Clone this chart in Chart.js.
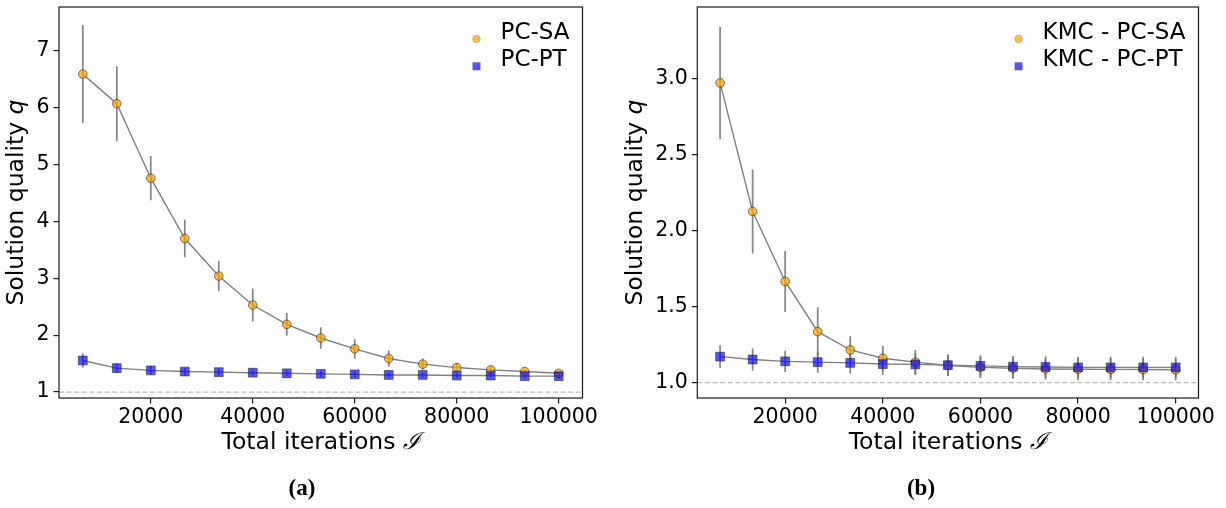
<!DOCTYPE html>
<html><head><meta charset="utf-8">
<script src="https://cdn.jsdelivr.net/npm/chart.js@4.4.0/dist/chart.umd.min.js"></script>
<style>
html,body{margin:0;padding:0;background:#fff;}
#wrap{position:relative;width:1226px;height:508px;overflow:hidden;background:#fff;}
canvas{position:absolute;top:0;}
</style></head><body>
<div id="wrap">
<canvas id="ca" width="613" height="508" style="left:0"></canvas>
<canvas id="cb" width="613" height="508" style="left:613px"></canvas>
</div>
<script>
// ---- data ----
const iterations = [6667, 13333, 20000, 26667, 33333, 40000, 46667, 53333, 60000, 66667, 73333, 80000, 86667, 93333, 100000];
const xTicks = [20000, 40000, 60000, 80000, 100000];
const xTickLabels = ['20000', '40000', '60000', '80000', '100000'];

// panel (a)
const labelsA = ['PC-SA', 'PC-PT'];
const pcSA = [6.59, 6.07, 4.76, 3.70, 3.04, 2.53, 2.19, 1.95, 1.76, 1.59, 1.49, 1.43, 1.39, 1.36, 1.33];
const pcSAErr = [0.86, 0.66, 0.39, 0.33, 0.27, 0.29, 0.20, 0.19, 0.17, 0.14, 0.10, 0.08, 0.06, 0.05, 0.04];
const pcPT = [1.555, 1.42, 1.38, 1.36, 1.35, 1.34, 1.33, 1.32, 1.31, 1.30, 1.30, 1.29, 1.29, 1.28, 1.28];
const pcPTErr = [0.125, 0.087, 0.075, 0.065, 0.06, 0.055, 0.05, 0.05, 0.05, 0.045, 0.045, 0.045, 0.04, 0.04, 0.04];
const yTicksA = [1, 2, 3, 4, 5, 6, 7];
const yTickLabelsA = ['1', '2', '3', '4', '5', '6', '7'];

// panel (b)
const labelsB = ['KMC - PC-SA', 'KMC - PC-PT'];
const kmcSA = [2.97, 2.125, 1.665, 1.335, 1.215, 1.16, 1.135, 1.113, 1.10, 1.095, 1.09, 1.088, 1.087, 1.086, 1.085];
const kmcSAErr = [0.37, 0.276, 0.20, 0.16, 0.09, 0.08, 0.08, 0.07, 0.07, 0.07, 0.07, 0.07, 0.07, 0.07, 0.07];
const kmcPT = [1.171, 1.152, 1.14, 1.135, 1.13, 1.122, 1.12, 1.115, 1.11, 1.105, 1.103, 1.10, 1.10, 1.10, 1.10];
const kmcPTErr = [0.074, 0.072, 0.07, 0.07, 0.07, 0.07, 0.07, 0.07, 0.07, 0.07, 0.07, 0.07, 0.07, 0.07, 0.07];
const yTicksB = [1.0, 1.5, 2.0, 2.5, 3.0];
const yTickLabelsB = ['1.0', '1.5', '2.0', '2.5', '3.0'];

const yTitleMain = 'Solution quality ';
const yTitleVar = 'q';
const xTitleMain = 'Total iterations ';
const xTitleVar = '\u2110';
const panelTags = ['(a)', '(b)'];

// ---- styles ----
const FONT = '"DejaVu Sans", "Noto Sans", sans-serif';
const ORANGE = 'rgba(255,165,0,0.72)';
const BLUE = 'rgba(0,0,255,0.66)';
const EDGE = 'rgba(40,40,40,0.75)';
const LINE = '#808080';
const ERR = 'rgba(110,110,110,0.85)';

function makeChart(canvasId, cfg) {
  const ctx = document.getElementById(canvasId).getContext('2d');
  const toPts = arr => arr.map((v, i) => ({ x: iterations[i], y: v }));
  const plugin = {
    id: 'custom_' + canvasId,
    beforeDatasetsDraw(chart) {
      const c = chart.ctx, a = chart.chartArea;
      const xs = chart.scales.x, ys = chart.scales.y;
      c.save();
      c.beginPath(); c.rect(a.left, a.top, a.right - a.left, a.bottom - a.top); c.clip();
      const y1 = ys.getPixelForValue(1);
      c.strokeStyle = 'rgba(175,175,175,0.85)'; c.lineWidth = 1.2; c.setLineDash([5, 2.6]);
      c.beginPath(); c.moveTo(a.left, y1); c.lineTo(a.right, y1); c.stroke();
      c.setLineDash([]);
      cfg.series.forEach(s => {
        c.strokeStyle = ERR; c.lineWidth = 1.7;
        s.values.forEach((v, i) => {
          const px = xs.getPixelForValue(iterations[i]);
          c.beginPath();
          c.moveTo(px, ys.getPixelForValue(v + s.err[i]));
          c.lineTo(px, ys.getPixelForValue(v - s.err[i]));
          c.stroke();
        });
      });
      c.restore();
    },
    afterDraw(chart) {
      const c = chart.ctx, a = chart.chartArea;
      c.save();
      c.strokeStyle = '#1a1a1a'; c.lineWidth = 1.2;
      c.strokeRect(a.left, a.top, a.right - a.left, a.bottom - a.top);
      c.fillStyle = '#000';
      // y title
      c.save();
      c.translate(cfg.yTitleX, (a.top + a.bottom) / 2);
      c.rotate(-Math.PI / 2);
      const f1 = '23.5px ' + FONT, f2 = 'italic 23.5px ' + FONT;
      c.font = f1; const w1 = c.measureText(yTitleMain).width;
      c.font = f2; const w2 = c.measureText(yTitleVar).width;
      c.textBaseline = 'middle'; c.textAlign = 'left';
      c.font = f1; c.fillText(yTitleMain, -(w1 + w2) / 2, 0);
      c.font = f2; c.fillText(yTitleVar, -(w1 + w2) / 2 + w1, 0);
      c.restore();
      // x title
      c.font = f1; const xw1 = c.measureText(xTitleMain).width;
      const f3 = 'italic 23.5px "DejaVu Serif", "Liberation Serif", serif';
      c.font = f3; const xw2 = c.measureText(xTitleVar).width;
      const xc = (a.left + a.right) / 2;
      c.textBaseline = 'middle'; c.textAlign = 'left';
      c.font = f1; c.fillText(xTitleMain, xc - (xw1 + xw2) / 2, 443);
      c.font = f3; c.fillText(xTitleVar, xc - (xw1 + xw2) / 2 + xw1, 443);
      // panel tag
      c.font = 'bold 23px "Liberation Serif", "Times New Roman", serif';
      c.textAlign = 'center';
      c.fillText(cfg.tag, cfg.tagX, 489);
      // legend
      c.font = '23px ' + FONT;
      const maxW = Math.max(...cfg.series.map(s => c.measureText(s.label).width));
      const textLeft = a.right - 13 - maxW;
      cfg.series.forEach((s, k) => {
        const ty = a.top + 26 + k * 27.3;
        c.fillStyle = '#000'; c.textAlign = 'left'; c.textBaseline = 'middle';
        c.fillText(s.label, textLeft, ty);
        const mx = textLeft - 24, my = ty + 6;
        c.fillStyle = s.color;
        c.strokeStyle = 'rgba(40,40,40,0.35)'; c.lineWidth = 0.6;
        c.beginPath();
        if (s.style === 'circle') c.arc(mx, my, 3.8, 0, Math.PI * 2);
        else c.rect(mx - 3.8, my - 3.8, 7.6, 7.6);
        c.fill(); c.stroke();
      });
      c.restore();
    }
  };

  return new Chart(ctx, {
    type: 'line',
    data: {
      datasets: cfg.series.map(s => ({
        label: s.label,
        data: toPts(s.values),
        borderColor: LINE,
        borderWidth: 1.4,
        pointStyle: s.style === 'circle' ? 'circle' : 'rect',
        pointRadius: s.style === 'circle' ? 4.3 : 6.2,
        pointBackgroundColor: s.color,
        pointBorderColor: EDGE,
        pointBorderWidth: 0.8,
        fill: false,
        tension: 0,
        order: s.order
      }))
    },
    options: {
      responsive: false,
      animation: false,
      devicePixelRatio: 1,
      layout: { padding: { left: 0, right: cfg.padRight, top: 5, bottom: 0 } },
      plugins: { legend: { display: false }, tooltip: { enabled: false } },
      scales: {
        x: {
          type: 'linear',
          min: 2000, max: 104667,
          afterBuildTicks: sc => { sc.ticks = xTicks.map(v => ({ value: v })); },
          afterFit: sc => { sc.height = 110; sc.paddingLeft = 0; sc.paddingRight = 0; },
          grid: { display: true, drawOnChartArea: false, drawTicks: true, tickLength: 5.5, color: '#1a1a1a', lineWidth: 1.2 },
          border: { display: false },
          ticks: {
            autoSkip: false, maxRotation: 0, minRotation: 0, padding: 2,
            color: '#000', font: { family: FONT, size: 20.5 },
            callback: (v, i) => xTickLabels[i]
          }
        },
        y: {
          type: 'linear',
          min: cfg.yMin, max: cfg.yMax,
          afterBuildTicks: sc => { sc.ticks = cfg.yTicks.map(v => ({ value: v })); },
          afterFit: sc => { sc.width = cfg.yWidth; sc.paddingTop = 0; sc.paddingBottom = 0; },
          grid: { display: true, drawOnChartArea: false, drawTicks: true, tickLength: 5.5, color: '#1a1a1a', lineWidth: 1.2 },
          border: { display: false },
          ticks: {
            autoSkip: false, padding: 4,
            color: '#000', font: { family: FONT, size: 20.5 },
            callback: (v, i) => cfg.yTickLabels[i]
          }
        }
      }
    },
    plugins: [plugin]
  });
}

makeChart('ca', {
  series: [
    { label: labelsA[0], values: pcSA, err: pcSAErr, color: ORANGE, style: 'circle', order: 2 },
    { label: labelsA[1], values: pcPT, err: pcPTErr, color: BLUE, style: 'rect', order: 1 }
  ],
  yMin: 0.895, yMax: 7.77, yTicks: yTicksA, yTickLabels: yTickLabelsA,
  yWidth: 59, padRight: 30.5, yTitleX: 17, tag: panelTags[0], tagX: 302
});

makeChart('cb', {
  series: [
    { label: labelsB[0], values: kmcSA, err: kmcSAErr, color: ORANGE, style: 'circle', order: 2 },
    { label: labelsB[1], values: kmcPT, err: kmcPTErr, color: BLUE, style: 'rect', order: 1 }
  ],
  yMin: 0.899, yMax: 3.469, yTicks: yTicksB, yTickLabels: yTickLabelsB,
  yWidth: 84.3, padRight: 27.5, yTitleX: 23, tag: panelTags[1], tagX: 308
});
</script>
</body></html>
